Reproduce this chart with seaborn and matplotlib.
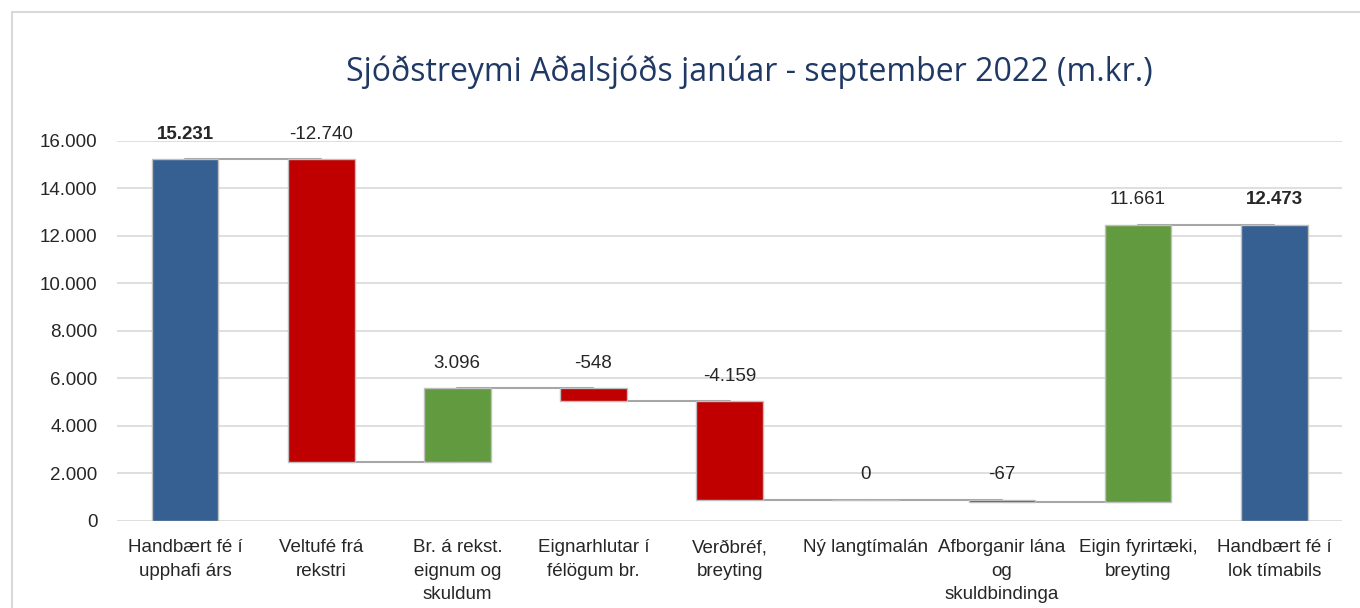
import matplotlib
matplotlib.use("Agg")
import matplotlib.pyplot as plt
import matplotlib.patches as mpatches
import numpy as np
import pandas as pd
import seaborn as sns

# data
categories = ["Handbært fé í\nupphafi árs", "Veltufé frá\nrekstri", "Br. á rekst.\neignum og\nskuldum",
              "Eignarhlutar í\nfélögum br.", "Verðbréf,\nbreyting", "Ný langtímalán",
              "Afborganir lána\nog\nskuldbindinga", "Eigin fyrirtæki,\nbreyting", "Handbært fé í\nlok tímabils"]
values = [15231, -12740, 3096, -548, -4159, 0, -67, 11661, 12473]
kinds = ["total", "delta", "delta", "delta", "delta", "delta", "delta", "delta", "total"]
labels = ["15.231", "-12.740", "3.096", "-548", "-4.159", "0", "-67", "11.661", "12.473"]

blue, red, green = "#376092", "#C00000", "#629B3F"

# running levels for the waterfall
bases, tops = [], []
level = 0
for v, k in zip(values, kinds):
    if k == "total":
        bases.append(0)
        tops.append(v)
        level = v
    else:
        new = level + v
        bases.append(min(level, new))
        tops.append(max(level, new))
        level = new
colors = [blue if k == "total" else (green if v > 0 else red) for v, k in zip(values, kinds)]

df = pd.DataFrame({"cat": categories, "base": bases, "top": tops})
df["height"] = df["top"] - df["base"]

sns.set_theme(style="white")
fam = ["Liberation Sans Narrow", "Liberation Sans", "DejaVu Sans"]
plt.rcParams["font.family"] = fam

fig = plt.figure(figsize=(13.6, 6.08), dpi=100)
ax = fig.add_axes([0.086, 0.1431, 0.901, 0.625])

sns.barplot(data=df, x="cat", y="height", hue="cat", palette=colors, dodge=False, saturation=1,
            legend=False, width=0.49, edgecolor="#bfbfbf", linewidth=1, ax=ax, zorder=3)
for p, b in zip(ax.patches, df["base"]):
    p.set_y(b)

# connector lines center to center
ends = []
level = 0
for v, k in zip(values, kinds):
    level = v if k == "total" else level + v
    ends.append(level)
for i in range(len(categories) - 1):
    ax.plot([i, i + 1], [ends[i], ends[i]], color="#a6a6a6", lw=1.5, zorder=2)

# value labels
for i, (t, lab, k) in enumerate(zip(df["top"], labels, kinds)):
    ax.text(i, t + 700, lab, ha="center", va="bottom", fontsize=13.5,
            fontweight="bold" if k == "total" else "normal", color="#262626", clip_on=False)

ax.set_ylim(0, 16000)
ax.set_xlim(-0.5, len(categories) - 0.5)
ax.set_yticks(np.arange(0, 16001, 2000))
ax.set_yticklabels([f"{int(t):,}".replace(",", ".") for t in np.arange(0, 16001, 2000)])
ax.yaxis.grid(True, color="#d9d9d9", lw=1.2, zorder=0)
ax.set_axisbelow(True)
ax.tick_params(axis="both", length=0, labelsize=13.5, colors="#262626")
ax.tick_params(axis="x", pad=13)
ax.tick_params(axis="y", pad=14)
for t in ax.get_xticklabels():
    t.set_linespacing(1.5)
ax.set_xlabel("")
ax.set_ylabel("")
for s in ax.spines.values():
    s.set_visible(False)

fig.text(0.551, 0.882, "Sjóðstreymi Aðalsjóðs janúar - september 2022 (m.kr.)",
         ha="center", va="center", fontsize=23, color="#1F3864", family=["Open Sans", "DejaVu Sans"])

fig.patches.append(mpatches.Rectangle((0.0088, -0.1), 1.2, 1.08, transform=fig.transFigure,
                                      fill=False, edgecolor="#d9d9d9", lw=1.5))

fig.savefig("out.png", dpi=100)
